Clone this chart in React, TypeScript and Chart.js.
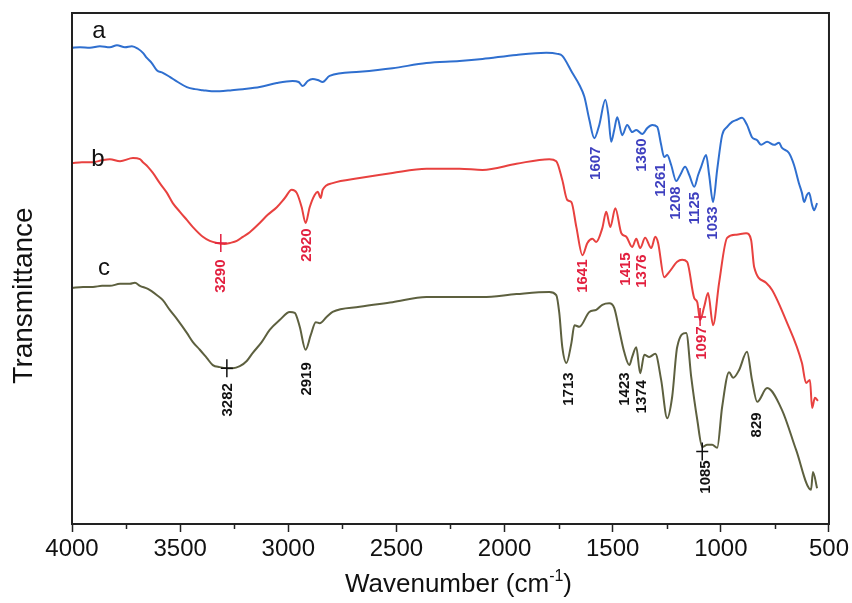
import React, { useEffect, useRef } from 'react';
import { Chart, registerables } from 'chart.js';

Chart.register(...registerables);

// ---- Spectrum a (blue) ----
const aWavenumber = [4000, 3963, 3917, 3871, 3825, 3792, 3755, 3723, 3695, 3672, 3654, 3631, 3608, 3580, 3548, 3511, 3469, 3432, 3395, 3354, 3317, 3261, 3210, 3132, 3053, 2980, 2952, 2933, 2910, 2887, 2864, 2841, 2809, 2670, 2518, 2361, 2208, 2102, 1945, 1807, 1756, 1733, 1687, 1654, 1631, 1608, 1585, 1562, 1534, 1520, 1507, 1493, 1479, 1456, 1433, 1410, 1391, 1363, 1340, 1317, 1294, 1276, 1262, 1248, 1230, 1206, 1188, 1165, 1146, 1123, 1105, 1091, 1068, 1054, 1036, 1017, 994, 971, 948, 925, 902, 879, 856, 832, 814, 786, 754, 731, 717, 685, 662, 639, 625, 615, 602, 592, 578, 569, 555];
const aTransmittance = [93.2, 93.3, 93.2, 93.5, 93.3, 93.7, 93.3, 93.5, 93.0, 92.2, 91.2, 90.2, 88.8, 88.3, 87.5, 86.5, 85.5, 85.1, 84.9, 84.7, 84.7, 84.9, 85.1, 85.5, 86.3, 86.7, 86.5, 85.7, 86.7, 87.1, 86.9, 86.5, 87.7, 88.5, 89.2, 90.2, 90.6, 91.0, 91.8, 92.2, 92.0, 91.6, 88.3, 85.9, 83.6, 79.1, 75.5, 78.1, 83.0, 80.0, 74.8, 77.1, 79.6, 76.1, 78.1, 76.7, 77.1, 76.3, 77.5, 78.1, 77.7, 74.2, 71.8, 72.2, 70.3, 67.1, 68.3, 69.9, 68.3, 66.0, 68.3, 69.9, 72.2, 68.3, 63.0, 69.3, 76.1, 77.7, 78.7, 79.1, 79.5, 78.1, 75.7, 75.1, 74.2, 74.8, 74.2, 74.6, 73.6, 72.6, 70.3, 66.7, 64.8, 63.0, 64.4, 64.8, 62.4, 61.4, 62.8];

// ---- Spectrum b (red) ----
const bWavenumber = [4000, 3954, 3903, 3861, 3825, 3778, 3718, 3686, 3672, 3649, 3626, 3594, 3561, 3534, 3501, 3469, 3441, 3395, 3363, 3330, 3294, 3270, 3238, 3210, 3178, 3132, 3095, 3053, 3016, 2984, 2961, 2938, 2920, 2901, 2878, 2864, 2850, 2841, 2795, 2670, 2518, 2361, 2208, 2102, 1945, 1793, 1761, 1733, 1710, 1691, 1668, 1640, 1617, 1594, 1576, 1548, 1530, 1511, 1488, 1460, 1437, 1410, 1391, 1373, 1350, 1322, 1303, 1290, 1262, 1239, 1202, 1179, 1156, 1123, 1109, 1096, 1077, 1059, 1036, 1008, 971, 929, 883, 860, 846, 791, 763, 699, 625, 606, 588, 578, 565, 551];
const bTransmittance = [70.6, 70.8, 70.8, 71.2, 71.4, 71.0, 71.6, 71.4, 70.8, 69.9, 68.7, 66.7, 64.8, 62.8, 61.1, 59.5, 58.1, 56.2, 55.4, 55.0, 54.8, 55.0, 55.4, 56.2, 57.1, 58.9, 60.5, 62.0, 63.8, 65.4, 64.8, 62.0, 58.9, 62.0, 64.4, 65.0, 63.8, 65.4, 66.7, 67.7, 68.7, 69.5, 69.5, 69.3, 70.5, 71.4, 71.0, 67.3, 63.4, 63.0, 58.1, 52.6, 55.0, 55.8, 55.2, 57.9, 61.1, 58.1, 61.8, 56.9, 56.2, 54.2, 55.8, 54.0, 56.0, 54.0, 56.2, 55.0, 48.3, 49.3, 51.3, 51.7, 51.3, 44.2, 43.4, 39.9, 42.5, 45.2, 38.9, 47.2, 56.0, 56.6, 56.9, 55.6, 50.3, 47.2, 45.8, 39.9, 31.5, 27.6, 28.2, 22.7, 24.7, 24.1];

// ---- Spectrum c (olive) ----
const cWavenumber = [4000, 3949, 3903, 3861, 3825, 3778, 3732, 3709, 3686, 3649, 3608, 3580, 3548, 3511, 3469, 3441, 3409, 3377, 3349, 3317, 3284, 3257, 3224, 3192, 3164, 3123, 3086, 3040, 2993, 2970, 2947, 2920, 2896, 2873, 2855, 2823, 2795, 2670, 2518, 2361, 2208, 2102, 1945, 1793, 1761, 1747, 1733, 1714, 1691, 1677, 1654, 1608, 1576, 1548, 1516, 1493, 1470, 1447, 1423, 1410, 1391, 1373, 1354, 1331, 1303, 1276, 1248, 1225, 1202, 1160, 1137, 1109, 1086, 1063, 1040, 1017, 994, 962, 943, 916, 879, 856, 832, 786, 717, 652, 583, 574, 555];
const cTransmittance = [46.2, 46.4, 46.4, 46.6, 46.6, 47.0, 47.0, 47.2, 46.6, 46.0, 44.8, 43.8, 41.9, 39.9, 37.4, 35.6, 34.1, 32.5, 31.1, 30.7, 30.5, 30.5, 30.9, 31.9, 33.5, 35.6, 38.0, 39.9, 41.5, 41.3, 38.6, 34.1, 37.0, 39.5, 39.3, 40.5, 41.5, 42.5, 43.4, 44.4, 44.4, 44.4, 45.0, 45.4, 44.8, 41.3, 34.6, 31.5, 35.4, 38.9, 38.6, 41.5, 41.9, 42.9, 43.2, 42.3, 38.0, 33.7, 31.1, 32.7, 34.6, 29.5, 33.1, 32.7, 33.3, 28.2, 20.7, 24.9, 34.6, 37.4, 28.8, 20.4, 15.1, 15.5, 15.5, 14.9, 22.9, 29.7, 28.6, 30.1, 33.7, 28.2, 23.9, 26.6, 22.3, 14.5, 6.7, 10.2, 7.0];

// ---- Peak annotations (text, anchor wavenumber, anchor transmittance) ----
const aPeakText = ['1607', '1360', '1261', '1208', '1125', '1033'];
const aPeakX = [1576, 1364, 1276, 1207, 1119, 1036];
const aPeakY = [70.6, 72.2, 67.3, 62.8, 61.8, 58.9];

const bPeakText = ['3290', '2920', '1641', '1415', '1376', '1097'];
const bPeakX = [3312, 2915, 1640, 1437, 1364, 1086];
const bPeakY = [48.5, 54.6, 48.5, 49.9, 49.5, 35.4];

const cPeakText = ['3282', '2919', '1713', '1423', '1374', '1085', '829'];
const cPeakX = [3280, 2915, 1701, 1442, 1364, 1068, 832];
const cPeakY = [24.3, 28.4, 26.4, 26.4, 24.9, 9.2, 19.4];

// cross markers at picked peaks
const markerX = [3312, 3284, 1096, 1086];
const markerY = [55.0, 30.5, 40.5, 14.2];
const markerSeries = ['b', 'c', 'b', 'c'];

// series letters
const seriesNames = ['a', 'b', 'c'];
const seriesNameX = [3875, 3880, 3852];
const seriesNameY = [96.5, 71.4, 50.1];

const xMajorTicks = [4000, 3500, 3000, 2500, 2000, 1500, 1000, 500];
const xMinorTicks = [3750, 3250, 2750, 2250, 1750, 1250, 750];

const COLORS: Record<string, string> = { a: '#2f6fcf', b: '#e8413f', c: '#5d603f' };
const LABEL_COLORS: Record<string, string> = { a: '#3e3fbf', b: '#e2203f', c: '#111111' };

const toPts = (xs: number[], ys: number[]) => xs.map((x, i) => ({ x, y: ys[i] }));

const overlayPlugin = {
  id: 'overlay',
  afterDraw(chart: any) {
    const { ctx, chartArea: ca, scales } = chart;
    const x = scales.x;
    const y = scales.y;
    ctx.save();
    // frame
    ctx.strokeStyle = '#222';
    ctx.lineWidth = 2;
    ctx.strokeRect(ca.left, ca.top, ca.right - ca.left, ca.bottom - ca.top);
    // minor ticks
    ctx.lineWidth = 1.5;
    for (const v of xMinorTicks) {
      const px = Math.round(x.getPixelForValue(v)) + 0.5;
      ctx.beginPath();
      ctx.moveTo(px, ca.bottom);
      ctx.lineTo(px, ca.bottom + 5);
      ctx.stroke();
    }
    // peak labels
    const drawRot = (text: string, wx: number, wy: number, color: string) => {
      ctx.save();
      ctx.translate(x.getPixelForValue(wx), y.getPixelForValue(wy));
      ctx.rotate(-Math.PI / 2);
      ctx.fillStyle = color;
      ctx.font = 'bold 15px "Liberation Sans", Arial, sans-serif';
      ctx.textAlign = 'center';
      ctx.textBaseline = 'middle';
      ctx.fillText(text, 0, 0);
      ctx.restore();
    };
    aPeakText.forEach((t, i) => drawRot(t, aPeakX[i], aPeakY[i], LABEL_COLORS.a));
    bPeakText.forEach((t, i) => drawRot(t, bPeakX[i], bPeakY[i], LABEL_COLORS.b));
    cPeakText.forEach((t, i) => drawRot(t, cPeakX[i], cPeakY[i], LABEL_COLORS.c));
    // markers
    markerX.forEach((mx, i) => {
      const px = x.getPixelForValue(mx);
      const py = y.getPixelForValue(markerY[i]);
      ctx.strokeStyle = LABEL_COLORS[markerSeries[i]];
      ctx.lineWidth = 1.5;
      ctx.beginPath();
      ctx.moveTo(px, py - 9);
      ctx.lineTo(px, py + 9);
      ctx.moveTo(px - 6, py);
      ctx.lineTo(px + 6, py);
      ctx.stroke();
    });
    // series letters
    ctx.fillStyle = '#111';
    ctx.font = '24px "Liberation Sans", Arial, sans-serif';
    ctx.textAlign = 'center';
    ctx.textBaseline = 'middle';
    seriesNames.forEach((n, i) => {
      ctx.fillText(n, x.getPixelForValue(seriesNameX[i]), y.getPixelForValue(seriesNameY[i]));
    });
    // y title
    ctx.save();
    ctx.translate(24, (ca.top + ca.bottom) / 2 + 27);
    ctx.rotate(-Math.PI / 2);
    ctx.font = '28px "Liberation Sans", Arial, sans-serif';
    ctx.fillStyle = '#111';
    ctx.textAlign = 'center';
    ctx.textBaseline = 'middle';
    ctx.fillText('Transmittance', 0, 0);
    ctx.restore();
    // x title with superscript
    const main = 'Wavenumber (cm';
    const sup = '-1';
    const close = ')';
    const fMain = '26px "Liberation Sans", Arial, sans-serif';
    const fSup = '16px "Liberation Sans", Arial, sans-serif';
    ctx.font = fMain;
    const wMain = ctx.measureText(main).width;
    const wClose = ctx.measureText(close).width;
    ctx.font = fSup;
    const wSup = ctx.measureText(sup).width;
    const total = wMain + wSup + wClose;
    const cx = (ca.left + ca.right) / 2 + 8;
    let sx = cx - total / 2;
    const base = 592;
    ctx.textAlign = 'left';
    ctx.textBaseline = 'alphabetic';
    ctx.fillStyle = '#111';
    ctx.font = fMain;
    ctx.fillText(main, sx, base);
    sx += wMain;
    ctx.font = fSup;
    ctx.fillText(sup, sx, base - 11);
    sx += wSup;
    ctx.font = fMain;
    ctx.fillText(close, sx, base);
    ctx.restore();
  },
};

export default function App() {
  const ref = useRef<HTMLCanvasElement | null>(null);
  useEffect(() => {
    document.body.style.margin = '0';
    if (!ref.current) return;
    const mk = (key: string, xs: number[], ys: number[]) => ({
      label: key,
      data: toPts(xs, ys),
      borderColor: COLORS[key],
      borderWidth: 2,
      pointRadius: 0,
      fill: false,
      cubicInterpolationMode: 'monotone' as const,
    });
    const chart = new Chart(ref.current, {
      type: 'line',
      data: {
        datasets: [
          mk('a', aWavenumber, aTransmittance),
          mk('b', bWavenumber, bTransmittance),
          mk('c', cWavenumber, cTransmittance),
        ],
      },
      options: {
        animation: false,
        responsive: false,
        devicePixelRatio: 1,
        parsing: false as any,
        layout: { padding: { top: 13, right: 22, left: 0, bottom: 0 } },
        plugins: { legend: { display: false }, tooltip: { enabled: false } },
        scales: {
          x: {
            type: 'linear',
            min: 500,
            max: 4000,
            reverse: true,
            afterFit: (s: any) => { s.height = 79; },
            afterBuildTicks: (s: any) => { s.ticks = xMajorTicks.map((v) => ({ value: v })); },
            ticks: {
              autoSkip: false,
              maxRotation: 0,
              padding: 3,
              color: '#111',
              font: { family: '"Liberation Sans", Arial, sans-serif', size: 24 },
              callback: (v: any) => String(v),
            },
            grid: { display: true, drawOnChartArea: false, drawTicks: true, tickLength: 8, tickColor: '#222', tickWidth: 1.5 },
            border: { display: false },
          },
          y: {
            type: 'linear',
            min: 0,
            max: 100,
            afterFit: (s: any) => { s.width = 72; },
            ticks: { display: false },
            grid: { display: false },
            border: { display: false },
          },
        },
      },
      plugins: [overlayPlugin],
    });
    return () => chart.destroy();
  }, []);
  return (
    <div style={{ position: 'fixed', left: 0, top: 0, width: 852, height: 603, background: '#fff' }}>
      <canvas ref={ref} width={852} height={603} style={{ width: 852, height: 603, display: 'block' }} />
    </div>
  );
}
